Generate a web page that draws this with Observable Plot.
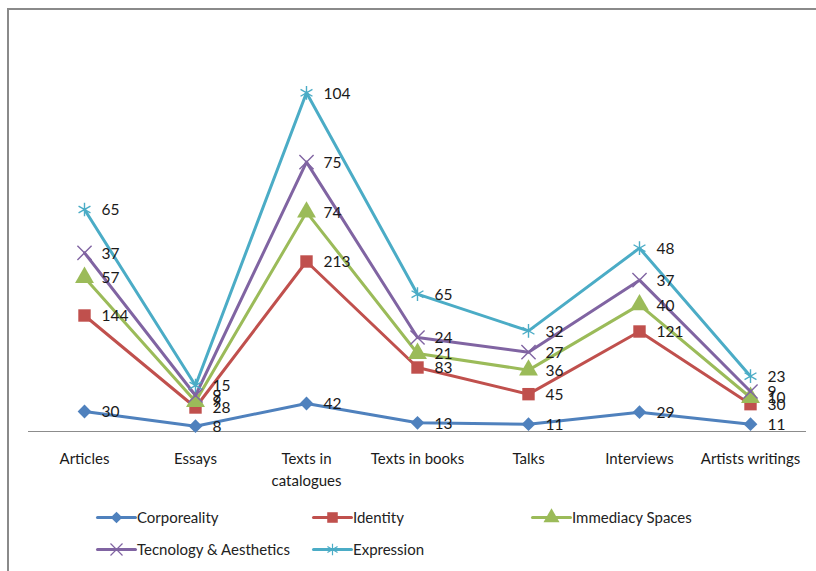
<!DOCTYPE html>
<html>
<head>
<meta charset="utf-8">
<script src="https://cdn.jsdelivr.net/npm/d3@7"></script>
<script src="https://cdn.jsdelivr.net/npm/@observablehq/plot@0.6"></script>
<style>
  html, body { margin: 0; padding: 0; background: #fff; }
  body { width: 816px; height: 571px; overflow: hidden; position: relative; font-family: Lato, "Open Sans", sans-serif; }
  #frame { position: absolute; left: 7px; top: 8px; width: 900px; height: 700px; border-left: 2px solid #8a8a8a; border-top: 2px solid #8a8a8a; box-sizing: border-box; }
  #chart { position: absolute; left: 0; top: 0; }
  .legend { position: absolute; font-size: 15px; color: #222; display: flex; align-items: center; white-space: nowrap; }
  .legend svg { margin-right: 2px; }
</style>
</head>
<body>
<div id="frame"></div>
<div id="chart"></div>
<div id="legend"></div>
<script>
const categories = ["Articles", "Essays", "Texts in\ncatalogues", "Texts in books", "Talks", "Interviews", "Artists writings"];
const seriesNames = ["Corporeality", "Identity", "Immediacy Spaces", "Tecnology & Aesthetics", "Expression"];
const corporeality = [30, 8, 42, 13, 11, 29, 11];
const identity = [144, 28, 213, 83, 45, 121, 30];
const immediacySpaces = [57, 9, 74, 21, 36, 40, 10];
const tecnologyAesthetics = [37, 9, 75, 24, 27, 37, 9];
const expression = [65, 15, 104, 65, 32, 48, 23];
const colors = ["#4F81BD", "#C0504D", "#9BBB59", "#8064A2", "#4BACC6"];
const symbols = ["diamond2", "square", "triangle", "times", "asterisk"];
const radii = [6.2, 7, 7, 6.5, 6.5];

const seriesValues = [corporeality, identity, immediacySpaces, tecnologyAesthetics, expression];
const data = [];
seriesNames.forEach((s, i) => categories.forEach((c, j) => data.push({series: s, category: c, value: seriesValues[i][j]})));

const stackOpts = (extra) => Plot.stackY2({x: "category", y: "value", z: "series", order: seriesNames, ...extra});

const marks = [Plot.ruleY([0], {stroke: "#8c8c8c", strokeWidth: 1})];
seriesNames.forEach((s, i) => {
  const filled = i < 3;
  marks.push(Plot.lineY(data, Plot.filter(d => d.series === s, stackOpts({stroke: colors[i], strokeWidth: 3}))));
  marks.push(Plot.dot(data, Plot.filter(d => d.series === s, stackOpts({
    symbol: () => symbols[i], r: radii[i],
    fill: filled ? colors[i] : "none", stroke: filled ? "none" : colors[i], strokeWidth: filled ? 0 : 1.4}))));
});
marks.push(Plot.text(data, stackOpts({text: "value", dx: 17, dy: 1, textAnchor: "start", fontSize: 15.5, fill: "#1a1a1a"})));
marks.push(Plot.axisX({tickSize: 0, tickPadding: 17, fontSize: 15, lineHeight: 1.45, color: "#1a1a1a", label: null}));

const plot = Plot.plot({
  width: 816,
  height: 500,
  marginLeft: 28,
  marginRight: 10,
  marginTop: 31,
  marginBottom: 69,
  style: {fontFamily: "Lato, 'Open Sans', sans-serif", background: "transparent", overflow: "visible"},
  x: {type: "point", domain: categories, padding: 0.5, label: null},
  y: {domain: [0, 600], axis: null},
  marks
});
document.getElementById("chart").appendChild(plot);

// Legend
const legendPos = [[97, 517], [313, 517], [532, 517], [97, 549], [313, 549]];
const legend = document.getElementById("legend");
seriesNames.forEach((s, i) => {
  const div = document.createElement("div");
  div.className = "legend";
  div.style.left = legendPos[i][0] + "px";
  div.style.top = (legendPos[i][1] - 10) + "px";
  div.style.height = "20px";
  const sw = Plot.plot({
    width: 38, height: 20, margin: 0,
    x: {domain: [0, 1], axis: null}, y: {domain: [0, 1], axis: null},
    style: {background: "transparent", overflow: "visible"},
    marks: [
      Plot.lineY([0.5, 0.5], {x: [0, 1], y: d => d, stroke: colors[i], strokeWidth: 3}),
      Plot.dot([0], {x: () => 0.5, y: () => 0.5, symbol: () => symbols[i], r: radii[i] * 0.85,
        fill: i < 3 ? colors[i] : "none", stroke: i < 3 ? "none" : colors[i], strokeWidth: i < 3 ? 0 : 1.2})
    ]
  });
  div.appendChild(sw);
  const span = document.createElement("span");
  span.textContent = s;
  div.appendChild(span);
  legend.appendChild(div);
});
</script>
</body>
</html>
